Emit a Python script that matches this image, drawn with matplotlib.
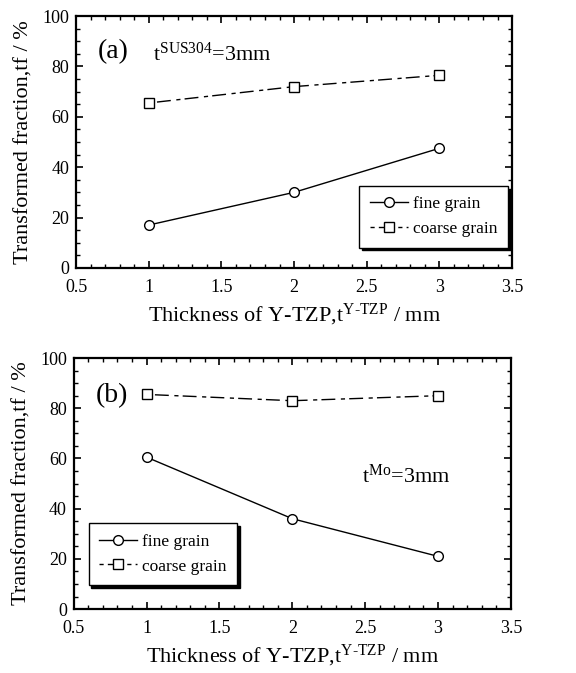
import matplotlib
matplotlib.use('Agg')
import matplotlib.pyplot as plt
from matplotlib.ticker import MultipleLocator

plt.rcParams['font.family'] = 'Liberation Serif'
plt.rcParams['mathtext.fontset'] = 'custom'
plt.rcParams['mathtext.rm'] = 'Liberation Serif'
plt.rcParams['mathtext.it'] = 'Liberation Serif'

# данные
thickness = [1, 2, 3]
fine_a = [17, 30, 47.5]
coarse_a = [65.5, 72, 76.5]
fine_b = [60.5, 36, 21]
coarse_b = [85.5, 83, 85]

fig = plt.figure(figsize=(5.76, 6.73), dpi=100)
ax1 = fig.add_axes([0.132, 0.602, 0.757, 0.374])
ax2 = fig.add_axes([0.128, 0.095, 0.759, 0.373])

dash = (0, (3, 3, 10, 4))

def setup(ax, fine, coarse, leg_loc):
    ax.plot(thickness, fine, '-', color='black', lw=1, marker='o', ms=7,
            mfc='white', mec='black', mew=1, label='fine grain')
    ax.plot(thickness, coarse, linestyle=dash, color='black', lw=1, marker='s', ms=7,
            mfc='white', mec='black', mew=1, label='coarse grain')
    ax.set_xlim(0.5, 3.5)
    ax.set_ylim(0, 100)
    ax.xaxis.set_major_locator(MultipleLocator(0.5))
    ax.xaxis.set_minor_locator(MultipleLocator(0.1))
    ax.yaxis.set_major_locator(MultipleLocator(20))
    ax.yaxis.set_minor_locator(MultipleLocator(5))
    ax.xaxis.set_major_formatter(plt.FuncFormatter(lambda v, p: '%g' % v))
    ax.tick_params(which='both', direction='in', top=True, right=True, labelsize=13)
    ax.tick_params(axis='x', which='major', pad=8)
    ax.tick_params(axis='y', which='major', pad=5)
    ax.tick_params(which='major', length=5, width=1.2)
    ax.tick_params(which='minor', length=3, width=1)
    for s in ax.spines.values():
        s.set_linewidth(1.6)
    ax.set_xlabel(r'Thickness of Y-TZP,t$^{\text{Y-TZP}}$ / mm', fontsize=16, labelpad=4)
    ax.set_ylabel('Transformed fraction,tf / %', fontsize=16, labelpad=6)
    leg = ax.legend(loc=leg_loc, fontsize=12.5, frameon=True, fancybox=False,
                    shadow={'color': 'black', 'alpha': 1, 'ox': 2, 'oy': -2},
                    handlelength=2.2, handletextpad=0.3, borderpad=0.6)
    leg.get_frame().set_edgecolor('black')
    leg.get_frame().set_linewidth(1)

setup(ax1, fine_a, coarse_a, (0.65, 0.08))
setup(ax2, fine_b, coarse_b, (0.034, 0.096))

ax1.text(0.65, 86, '(a)', fontsize=20, va='center')
ax1.text(1.03, 85, r't$^{\mathrm{SUS304}}$=3mm', fontsize=16, va='center')
ax2.text(0.65, 85, '(b)', fontsize=20, va='center')
ax2.text(2.48, 53, r't$^{\mathrm{Mo}}$=3mm', fontsize=16, va='center')

fig.savefig('out.png', dpi=100)
